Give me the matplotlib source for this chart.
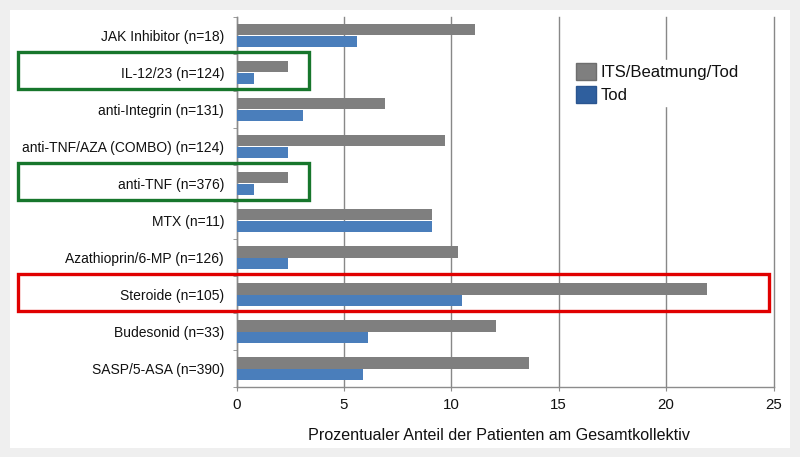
import matplotlib
matplotlib.use("Agg")
import matplotlib.pyplot as plt
import matplotlib.transforms as mtransforms
from matplotlib.patches import Rectangle, Patch
import numpy as np

plt.rcParams['font.family'] = ['Liberation Sans', 'DejaVu Sans']

categories = ["JAK Inhibitor (n=18)", "IL-12/23 (n=124)", "anti-Integrin (n=131)",
              "anti-TNF/AZA (COMBO) (n=124)", "anti-TNF (n=376)", "MTX (n=11)",
              "Azathioprin/6-MP (n=126)", "Steroide (n=105)", "Budesonid (n=33)",
              "SASP/5-ASA (n=390)"]
its_beatmung_tod = [11.1, 2.4, 6.9, 9.7, 2.4, 9.1, 10.3, 21.9, 12.1, 13.6]
tod = [5.6, 0.8, 3.1, 2.4, 0.8, 9.1, 2.4, 10.5, 6.1, 5.9]
x_ticks = [0, 5, 10, 15, 20, 25]
xlabel = "Prozentualer Anteil der Patienten am Gesamtkollektiv"
legend_labels = ["ITS/Beatmung/Tod", "Tod"]
green_boxes = ["IL-12/23 (n=124)", "anti-TNF (n=376)"]
red_boxes = ["Steroide (n=105)"]

W, H = 800, 457
fig = plt.figure(figsize=(W / 100, H / 100), dpi=100, facecolor="#efefef")

# white panel
fig.patches.append(Rectangle((10 / W, 1 - 447.5 / H), 780 / W, 438 / H,
                             transform=fig.transFigure, facecolor="white",
                             edgecolor="none", zorder=-10))

ax = fig.add_axes([236.5 / W, 1 - 387 / H, 537 / W, 370 / H])
ax.set_facecolor("none")

gray = "#7f7f7f"
blue = "#4a7ebb"
y = np.arange(len(categories))
h = 0.3
ax.barh(y - h / 2, its_beatmung_tod, height=h, color=gray, zorder=3)
ax.barh(y + h / 2, tod, height=h, color=blue, zorder=3)

ax.set_xlim(0, 25)
ax.set_ylim(len(categories) - 0.5, -0.5)
ax.set_xticks(x_ticks)
ax.set_xticklabels([str(t) for t in x_ticks])
ax.set_yticks(y)
ax.set_yticklabels(categories)
ax.set_yticks(np.arange(len(categories) + 1) - 0.5, minor=True)

for s in ["top", "right"]:
    ax.spines[s].set_visible(False)
for s in ["left", "bottom"]:
    ax.spines[s].set_color("#8c8c8c")
    ax.spines[s].set_linewidth(1.0)

ax.tick_params(axis="y", which="major", length=0, pad=9, labelsize=10, labelcolor="#111111")
ax.tick_params(axis="y", which="minor", length=3, color="#8c8c8c", direction="out")
ax.tick_params(axis="x", which="major", length=3, color="#8c8c8c", pad=5, labelsize=10.8,
               labelcolor="#111111")

ax.grid(axis="x", color="#888888", linewidth=1.0, zorder=1)
ax.set_axisbelow(True)
for gl in ax.get_xgridlines():
    gl.set_clip_on(False)
ax.set_xlabel(xlabel, fontsize=11.6, color="#111111")
ax.xaxis.set_label_coords(0.4888, -0.11)

handles = [Patch(facecolor=gray, edgecolor="#6e6e6e"), Patch(facecolor="#2f5f9e", edgecolor="#2a5590")]
leg = fig.legend(handles, legend_labels, loc="upper left",
                 bbox_to_anchor=(573 / W, 1 - 60 / H), bbox_transform=fig.transFigure,
                 fontsize=12, frameon=True, fancybox=False, framealpha=1,
                 edgecolor="white", facecolor="white", borderpad=0.15,
                 handlelength=1.25, handleheight=1.2, handletextpad=0.25,
                 labelspacing=0.4, borderaxespad=0)
for t in leg.get_texts():
    t.set_color("#111111")

trans = mtransforms.blended_transform_factory(fig.transFigure, ax.transData)

def box(label, right_val, color):
    i = categories.index(label)
    x0 = 17.5 / W
    xr_disp = ax.transData.transform((right_val, 0))[0]
    xr = fig.transFigure.inverted().transform((xr_disp, 0))[0]
    r = Rectangle((x0, i - 0.55), xr - x0, 1.0, transform=trans, fill=False,
                  edgecolor=color, linewidth=2.4, clip_on=False, zorder=5)
    fig.patches.append(r)

for lab in green_boxes:
    box(lab, 3.37, "#17762c")
for lab in red_boxes:
    box(lab, 24.78, "#e00000")

fig.savefig("out.png", dpi=100, facecolor=fig.get_facecolor())
